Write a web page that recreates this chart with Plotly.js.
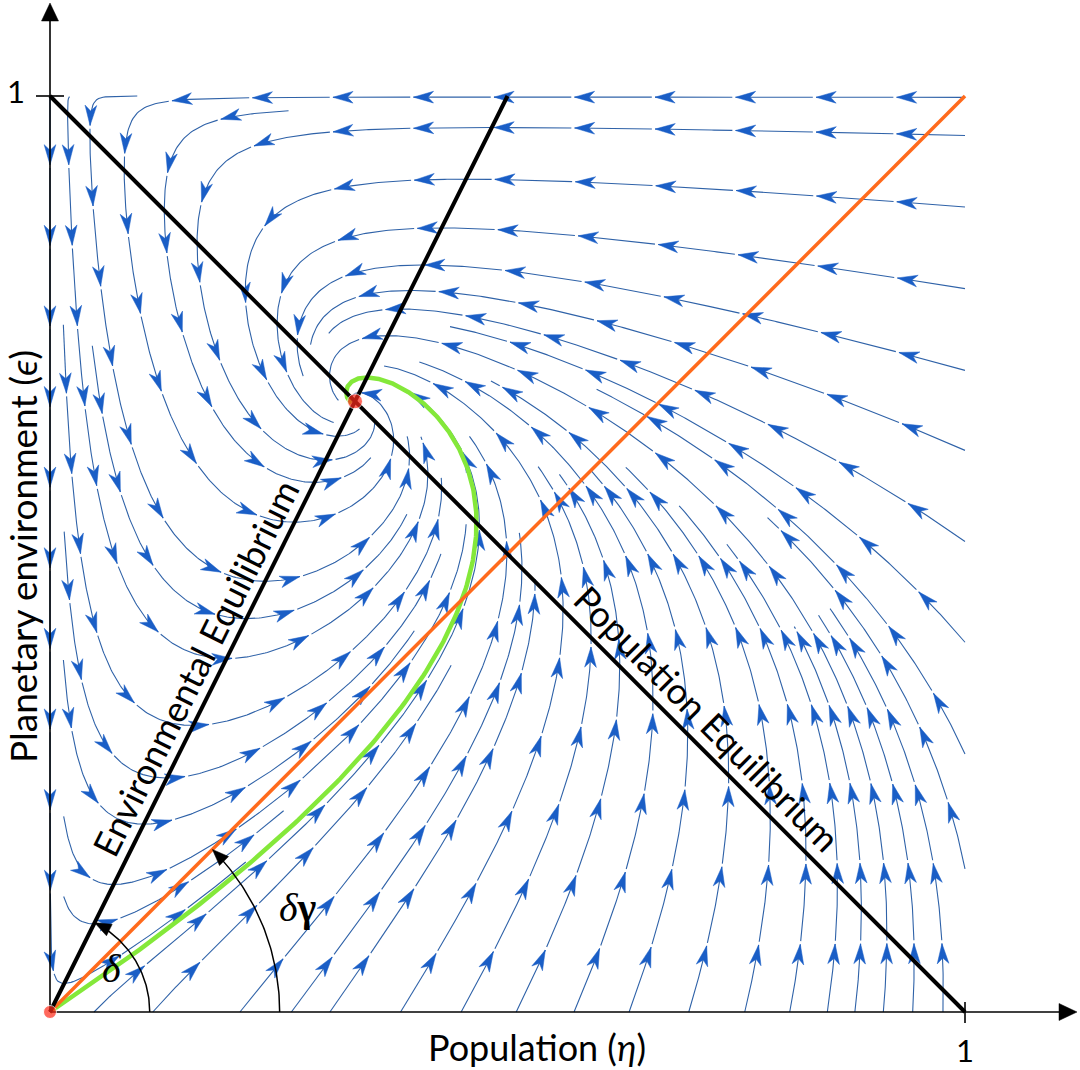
<!DOCTYPE html>
<html><head><meta charset="utf-8">
<script src="https://cdn.plot.ly/plotly-3.0.1.min.js"></script>
<style>html,body{margin:0;padding:0;background:#fff;}#chart{width:1080px;height:1070px;}</style>
</head><body><div id="chart"></div>
<script>
// ===== values =====
const popEqEta = [0, 1];        // Population equilibrium: eps = 1 - eta
const popEqEps = [1, 0];
const envEqEta = [0, 0.5];      // Environmental equilibrium: eps = 2 eta
const envEqEps = [0, 1];
const refEta   = [0, 1];        // delta-gamma reference line
const refEps   = [0, 1];
const eqEta    = [0, 1/3];      // equilibria (red dots)
const eqEps    = [0, 2/3];
const arcRadius   = [0.109, 0.251];   // delta arc, delta-gamma arc
const arcAngleDeg = [63.43, 45];
const arcLabels   = ['<i>δ</i>', '<i>δ</i><b>γ</b>'];
const tickLabels  = ['1', '1'];
const axisTitles  = ['Population (<i>η</i>)', 'Planetary environment (<i>ϵ</i>)'];
const lineLabels  = ['Environmental Equilibrium', 'Population Equilibrium'];
// where visible streamlines meet the frame
const seedTopEps    = [0.9985];
const seedRightEps  = [0.957, 0.879, 0.790, 0.701, 0.614, 0.515, 0.406, 0.286, 0.166];
const seedBottomEta = [0.051, 0.115, 0.210, 0.266, 0.308, 0.385, 0.451, 0.511, 0.574, 0.634,
                       0.699, 0.760, 0.809, 0.850, 0.880, 0.911, 0.943, 0.976];
const envSlope = 2;             // slope of the environmental equilibrium line
const epsRate  = 0.5;           // relative speed of the environment dynamics (estimated)

// ===== model (phase-plane vector field) =====
function field(x, y) {
  return [x * (1 - x - y), epsRate * (envSlope * x - y) * (1 - y)];
}

// pixel helpers for layout placement
const X0 = 50, XU = 915, Y0 = 1012, YU = 916;
const px = p => (p - X0) / XU;
const py = p => (Y0 - p) / YU;

// ===== evenly spaced streamlines =====
const DSEP = 0.045, DTEST = 0.0145, H = 0.0025, MAXLEN = 2.5, MINLEN = 0.035;
const NC = Math.ceil(1 / DSEP) + 1;
const cells = []; for (let i = 0; i < NC * NC; i++) cells.push([]);
function cidx(x, y) {
  const i = Math.min(NC - 1, Math.max(0, Math.floor(x / DSEP)));
  const j = Math.min(NC - 1, Math.max(0, Math.floor(y / DSEP)));
  return [i, j];
}
function nearStored(x, y, d) {
  const [i, j] = cidx(x, y); const d2 = d * d;
  for (let a = i - 1; a <= i + 1; a++) {
    if (a < 0 || a >= NC) continue;
    for (let b = j - 1; b <= j + 1; b++) {
      if (b < 0 || b >= NC) continue;
      const arr = cells[a * NC + b];
      for (let k = 0; k < arr.length; k += 2) {
        const dx = arr[k] - x, dy = arr[k + 1] - y;
        if (dx * dx + dy * dy < d2) return true;
      }
    }
  }
  return false;
}
function storeLine(pts) {
  for (const p of pts) { const [i, j] = cidx(p[0], p[1]); cells[i * NC + j].push(p[0], p[1]); }
}
function makeOwn() {
  const m = new Map();
  return {
    add(x, y, a) { const k = Math.floor(x / DSEP) * 1000 + Math.floor(y / DSEP); if (!m.has(k)) m.set(k, []); m.get(k).push(x, y, a); },
    near(x, y, a) {
      const i = Math.floor(x / DSEP), j = Math.floor(y / DSEP);
      for (let u = i - 1; u <= i + 1; u++) for (let v = j - 1; v <= j + 1; v++) {
        const arr = m.get(u * 1000 + v); if (!arr) continue;
        for (let k = 0; k < arr.length; k += 3) {
          if (Math.abs(arr[k + 2] - a) < 3 * DSEP) continue;
          const dx = arr[k] - x, dy = arr[k + 1] - y;
          if (dx * dx + dy * dy < DTEST * DTEST) return true;
        }
      }
      return false;
    }
  };
}
function dirAt(x, y, sgn) {
  const v = field(x, y); const m = Math.hypot(v[0], v[1]);
  if (m < 1e-7) return null;
  return [sgn * v[0] / m, sgn * v[1] / m];
}
function rk4(x, y, sgn) {
  const k1 = dirAt(x, y, sgn); if (!k1) return null;
  const k2 = dirAt(x + 0.5 * H * k1[0], y + 0.5 * H * k1[1], sgn); if (!k2) return null;
  const k3 = dirAt(x + 0.5 * H * k2[0], y + 0.5 * H * k2[1], sgn); if (!k3) return null;
  const k4 = dirAt(x + H * k3[0], y + H * k3[1], sgn); if (!k4) return null;
  return [x + H / 6 * (k1[0] + 2 * k2[0] + 2 * k3[0] + k4[0]),
          y + H / 6 * (k1[1] + 2 * k2[1] + 2 * k3[1] + k4[1])];
}
function traceDir(x0, y0, sgn, own) {
  const pts = []; let x = x0, y = y0, arc = 0, pdx = 0, pdy = 0;
  while (arc < MAXLEN) {
    const p = rk4(x, y, sgn); if (!p) break;
    const dx = p[0] - x, dy = p[1] - y;
    if (arc > 0 && (dx * pdx + dy * pdy) < 0.7 * H * H) break;
    if (p[0] < 0 || p[0] > 1 || p[1] < 0 || p[1] > 1) {
      let t = 1;
      if (p[0] < 0) t = Math.min(t, x / (x - p[0]));
      if (p[0] > 1) t = Math.min(t, (1 - x) / (p[0] - x));
      if (p[1] < 0) t = Math.min(t, y / (y - p[1]));
      if (p[1] > 1) t = Math.min(t, (1 - y) / (p[1] - y));
      pts.push([x + t * dx, y + t * dy]);
      break;
    }
    if (nearStored(p[0], p[1], DTEST)) break;
    arc += H;
    if (own.near(p[0], p[1], sgn * arc)) break;
    own.add(p[0], p[1], sgn * arc);
    pts.push(p); x = p[0]; y = p[1]; pdx = dx; pdy = dy;
  }
  return pts;
}
function makeLine(x0, y0) {
  const own = makeOwn(); own.add(x0, y0, 0);
  const back = traceDir(x0, y0, -1, own);
  const fwd = traceDir(x0, y0, 1, own);
  if ((back.length + fwd.length) * H < MINLEN) return null;
  return back.reverse().concat([[x0, y0]], fwd);
}
const lines = [];
function tryAdd(x, y, minDist) {
  if (x < 0 || x > 1 || y < 0 || y > 1) return;
  if (nearStored(x, y, minDist || DSEP * 0.98)) return;
  const ln = makeLine(x, y);
  if (ln) { storeLine(ln); lines.push(ln); }
}
// picture-read seeds first
for (const e of seedTopEps) tryAdd(0.9995, e, DTEST * 1.5);
for (const e of seedRightEps) tryAdd(0.998, e, DTEST * 1.5);
for (const h of seedBottomEta) tryAdd(h, 0.003, DTEST * 1.5);
let qi = 0;
function propagate() {
  while (qi < lines.length) {
    const ln = lines[qi++];
    for (let k = 0; k < ln.length; k += 5) {
      const a = ln[Math.max(0, k - 1)], b = ln[Math.min(ln.length - 1, k + 1)];
      let tx = b[0] - a[0], ty = b[1] - a[1]; const m = Math.hypot(tx, ty); if (m === 0) continue;
      tx /= m; ty /= m; const p = ln[k];
      tryAdd(p[0] - ty * DSEP, p[1] + tx * DSEP);
      tryAdd(p[0] + ty * DSEP, p[1] - tx * DSEP);
    }
  }
}
propagate();
for (let gx = 0.01; gx < 1; gx += DSEP / 2) for (let gy = 0.01; gy < 1; gy += DSEP / 2) { tryAdd(gx, gy); propagate(); }

// ===== streamline marks: segments with notched arrowheads =====
const L_ARROW = 0.088, GAP = 0.0035, AH = 0.022, AW = 0.0064;
const sx = [], sy = [], ax = [], ay = [];
for (const ln of lines) {
  const n = ln.length, s = [0];
  for (let i = 1; i < n; i++) s.push(s[i - 1] + Math.hypot(ln[i][0] - ln[i - 1][0], ln[i][1] - ln[i - 1][1]));
  const total = s[n - 1];
  const tips = [];
  for (let t = L_ARROW * 0.85; t < total - 0.002; t += L_ARROW) tips.push(t);
  if (!tips.length) tips.push(total * 0.6);
  const at = t => {
    let i = 1; while (i < n - 1 && s[i] < t) i++;
    const f = (t - s[i - 1]) / Math.max(1e-12, s[i] - s[i - 1]);
    const p = [ln[i - 1][0] + f * (ln[i][0] - ln[i - 1][0]), ln[i - 1][1] + f * (ln[i][1] - ln[i - 1][1])];
    let dx = ln[i][0] - ln[i - 1][0], dy = ln[i][1] - ln[i - 1][1]; const m = Math.hypot(dx, dy) || 1;
    return [p, [dx / m, dy / m]];
  };
  const ends = tips.concat([total]);
  let start = 0;
  for (const e of ends) {
    if (e > start) {
      const p0 = at(start)[0]; sx.push(p0[0]); sy.push(p0[1]);
      for (let i = 0; i < n; i++) if (s[i] > start && s[i] < e) { sx.push(ln[i][0]); sy.push(ln[i][1]); }
      const p1 = at(e)[0]; sx.push(p1[0]); sy.push(p1[1]);
      sx.push(null); sy.push(null);
    }
    start = e + GAP;
  }
  for (const t of tips) {
    const [p, d] = at(t); const nx = -d[1], ny = d[0];
    const bx = p[0] - AH * d[0], by = p[1] - AH * d[1];
    const qx = p[0] - 0.72 * AH * d[0], qy = p[1] - 0.72 * AH * d[1];
    ax.push(p[0], bx + AW * nx, qx, bx - AW * nx, p[0], null);
    ay.push(p[1], by + AW * ny, qy, by - AW * ny, p[1], null);
  }
}

// ===== trajectory from origin to the interior equilibrium =====
function greenPath() {
  const v = [1, 2 * epsRate / (1 + epsRate)];
  let x = 1e-5 * v[0], y = 1e-5 * v[1];
  const gx = [0, x], gy = [0, y]; const dt = 0.01;
  for (let i = 0; i < 40000; i++) {
    const k1 = field(x, y), k2 = field(x + dt / 2 * k1[0], y + dt / 2 * k1[1]);
    const k3 = field(x + dt / 2 * k2[0], y + dt / 2 * k2[1]), k4 = field(x + dt * k3[0], y + dt * k3[1]);
    x += dt / 6 * (k1[0] + 2 * k2[0] + 2 * k3[0] + k4[0]);
    y += dt / 6 * (k1[1] + 2 * k2[1] + 2 * k3[1] + k4[1]);
    if (i % 3 === 0) { gx.push(x); gy.push(y); }
    if (i > 1000 && Math.hypot(x - eqEta[1], y - eqEps[1]) < 0.004) break;
  }
  return [gx, gy];
}
const [greenX, greenY] = greenPath();

// ===== angle arcs =====
function arcTrace(r, deg) {
  const th = deg * Math.PI / 180, xs = [], ys = [];
  const thEnd = th - 0.012 / r;
  for (let i = 0; i <= 60; i++) { const a = thEnd * i / 60; xs.push(r * Math.cos(a)); ys.push(r * Math.sin(a)); }
  const tip = [r * Math.cos(th), r * Math.sin(th)], d = [-Math.sin(th), Math.cos(th)], nn = [Math.cos(th), Math.sin(th)];
  const A = 0.018, W = 0.007;
  const hx = [tip[0], tip[0] - A * d[0] + W * nn[0], tip[0] - A * d[0] - W * nn[0], tip[0]];
  const hy = [tip[1], tip[1] - A * d[1] + W * nn[1], tip[1] - A * d[1] - W * nn[1], tip[1]];
  return [xs, ys, hx, hy];
}
const arc1 = arcTrace(arcRadius[0], arcAngleDeg[0]);
const arc2 = arcTrace(arcRadius[1], arcAngleDeg[1]);

const traces = [
  {x: sx, y: sy, mode: 'lines', line: {color: '#2f62a8', width: 1.1}, hoverinfo: 'skip'},
  {x: ax, y: ay, mode: 'lines', fill: 'toself', fillcolor: '#1a5ec6', line: {color: '#1a5ec6', width: 0.5}, hoverinfo: 'skip'},
  {x: greenX, y: greenY, mode: 'lines', line: {color: '#84e83a', width: 4.5}, hoverinfo: 'skip'},
  {x: refEta, y: refEps, mode: 'lines', line: {color: '#ff6a1c', width: 3.5}, hoverinfo: 'skip'},
  {x: popEqEta, y: popEqEps, mode: 'lines', line: {color: '#000', width: 4}, hoverinfo: 'skip'},
  {x: envEqEta, y: envEqEps, mode: 'lines', line: {color: '#000', width: 4}, hoverinfo: 'skip'},
  {x: arc1[0], y: arc1[1], mode: 'lines', line: {color: '#000', width: 1.5}, hoverinfo: 'skip'},
  {x: arc1[2], y: arc1[3], mode: 'lines', fill: 'toself', fillcolor: '#000', line: {color: '#000', width: 0.5}, hoverinfo: 'skip'},
  {x: arc2[0], y: arc2[1], mode: 'lines', line: {color: '#000', width: 1.5}, hoverinfo: 'skip'},
  {x: arc2[2], y: arc2[3], mode: 'lines', fill: 'toself', fillcolor: '#000', line: {color: '#000', width: 0.5}, hoverinfo: 'skip'},
  // axes with arrowheads and ticks
  {x: [0, px(1062), null, 0, 0, null, px(36), px(64), null, 1, 1], y: [0, 0, null, 0, py(18), null, 1, 1, null, py(1002), py(1023)],
   mode: 'lines', line: {color: '#000', width: 1.6}, hoverinfo: 'skip'},
  {x: [px(1077), px(1059), px(1059), px(1077), null, 0, px(41.5), px(58.5), 0],
   y: [0, 8.5 / YU, -8.5 / YU, 0, null, py(3), py(21), py(21), py(3)],
   mode: 'lines', fill: 'toself', fillcolor: '#000', line: {color: '#000', width: 0.5}, hoverinfo: 'skip'},
  {x: eqEta, y: eqEps, mode: 'markers', marker: {color: '#ff2a1a', size: [13, 15]}, hoverinfo: 'skip'}
];

const sans = 'Lato, "Open Sans", sans-serif';
const serif = '"Liberation Serif", "DejaVu Serif", serif';
const ann = (x, y, text, size, family, angle) => ({x, y, xref: 'x', yref: 'y', text, showarrow: false,
  xanchor: 'center', yanchor: 'middle', textangle: angle || 0, font: {size, family, color: '#000'}});
const layout = {
  width: 1080, height: 1070, margin: {l: 0, r: 0, t: 0, b: 0},
  paper_bgcolor: '#fff', plot_bgcolor: '#fff', showlegend: false,
  xaxis: {range: [px(0), px(1080)], visible: false, fixedrange: true},
  yaxis: {range: [py(1070), py(0)], visible: false, fixedrange: true},
  annotations: [
    ann(px(16), py(91), tickLabels[0], 31, sans),
    ann(px(965), py(1050), tickLabels[1], 31, sans),
    ann(px(537), py(1047), axisTitles[0], 36, sans),
    ann(px(22), py(557), axisTitles[1], 37, sans, -90),
    ann(px(195), py(668), lineLabels[0], 36, sans, -63.43),
    ann(px(707), py(718), lineLabels[1], 36, sans, 45),
    ann(px(112), py(968), arcLabels[0], 40, serif),
    ann(px(298), py(907), arcLabels[1], 40, serif)
  ]
};
Plotly.newPlot('chart', traces, layout, {staticPlot: true});
</script></body></html>
